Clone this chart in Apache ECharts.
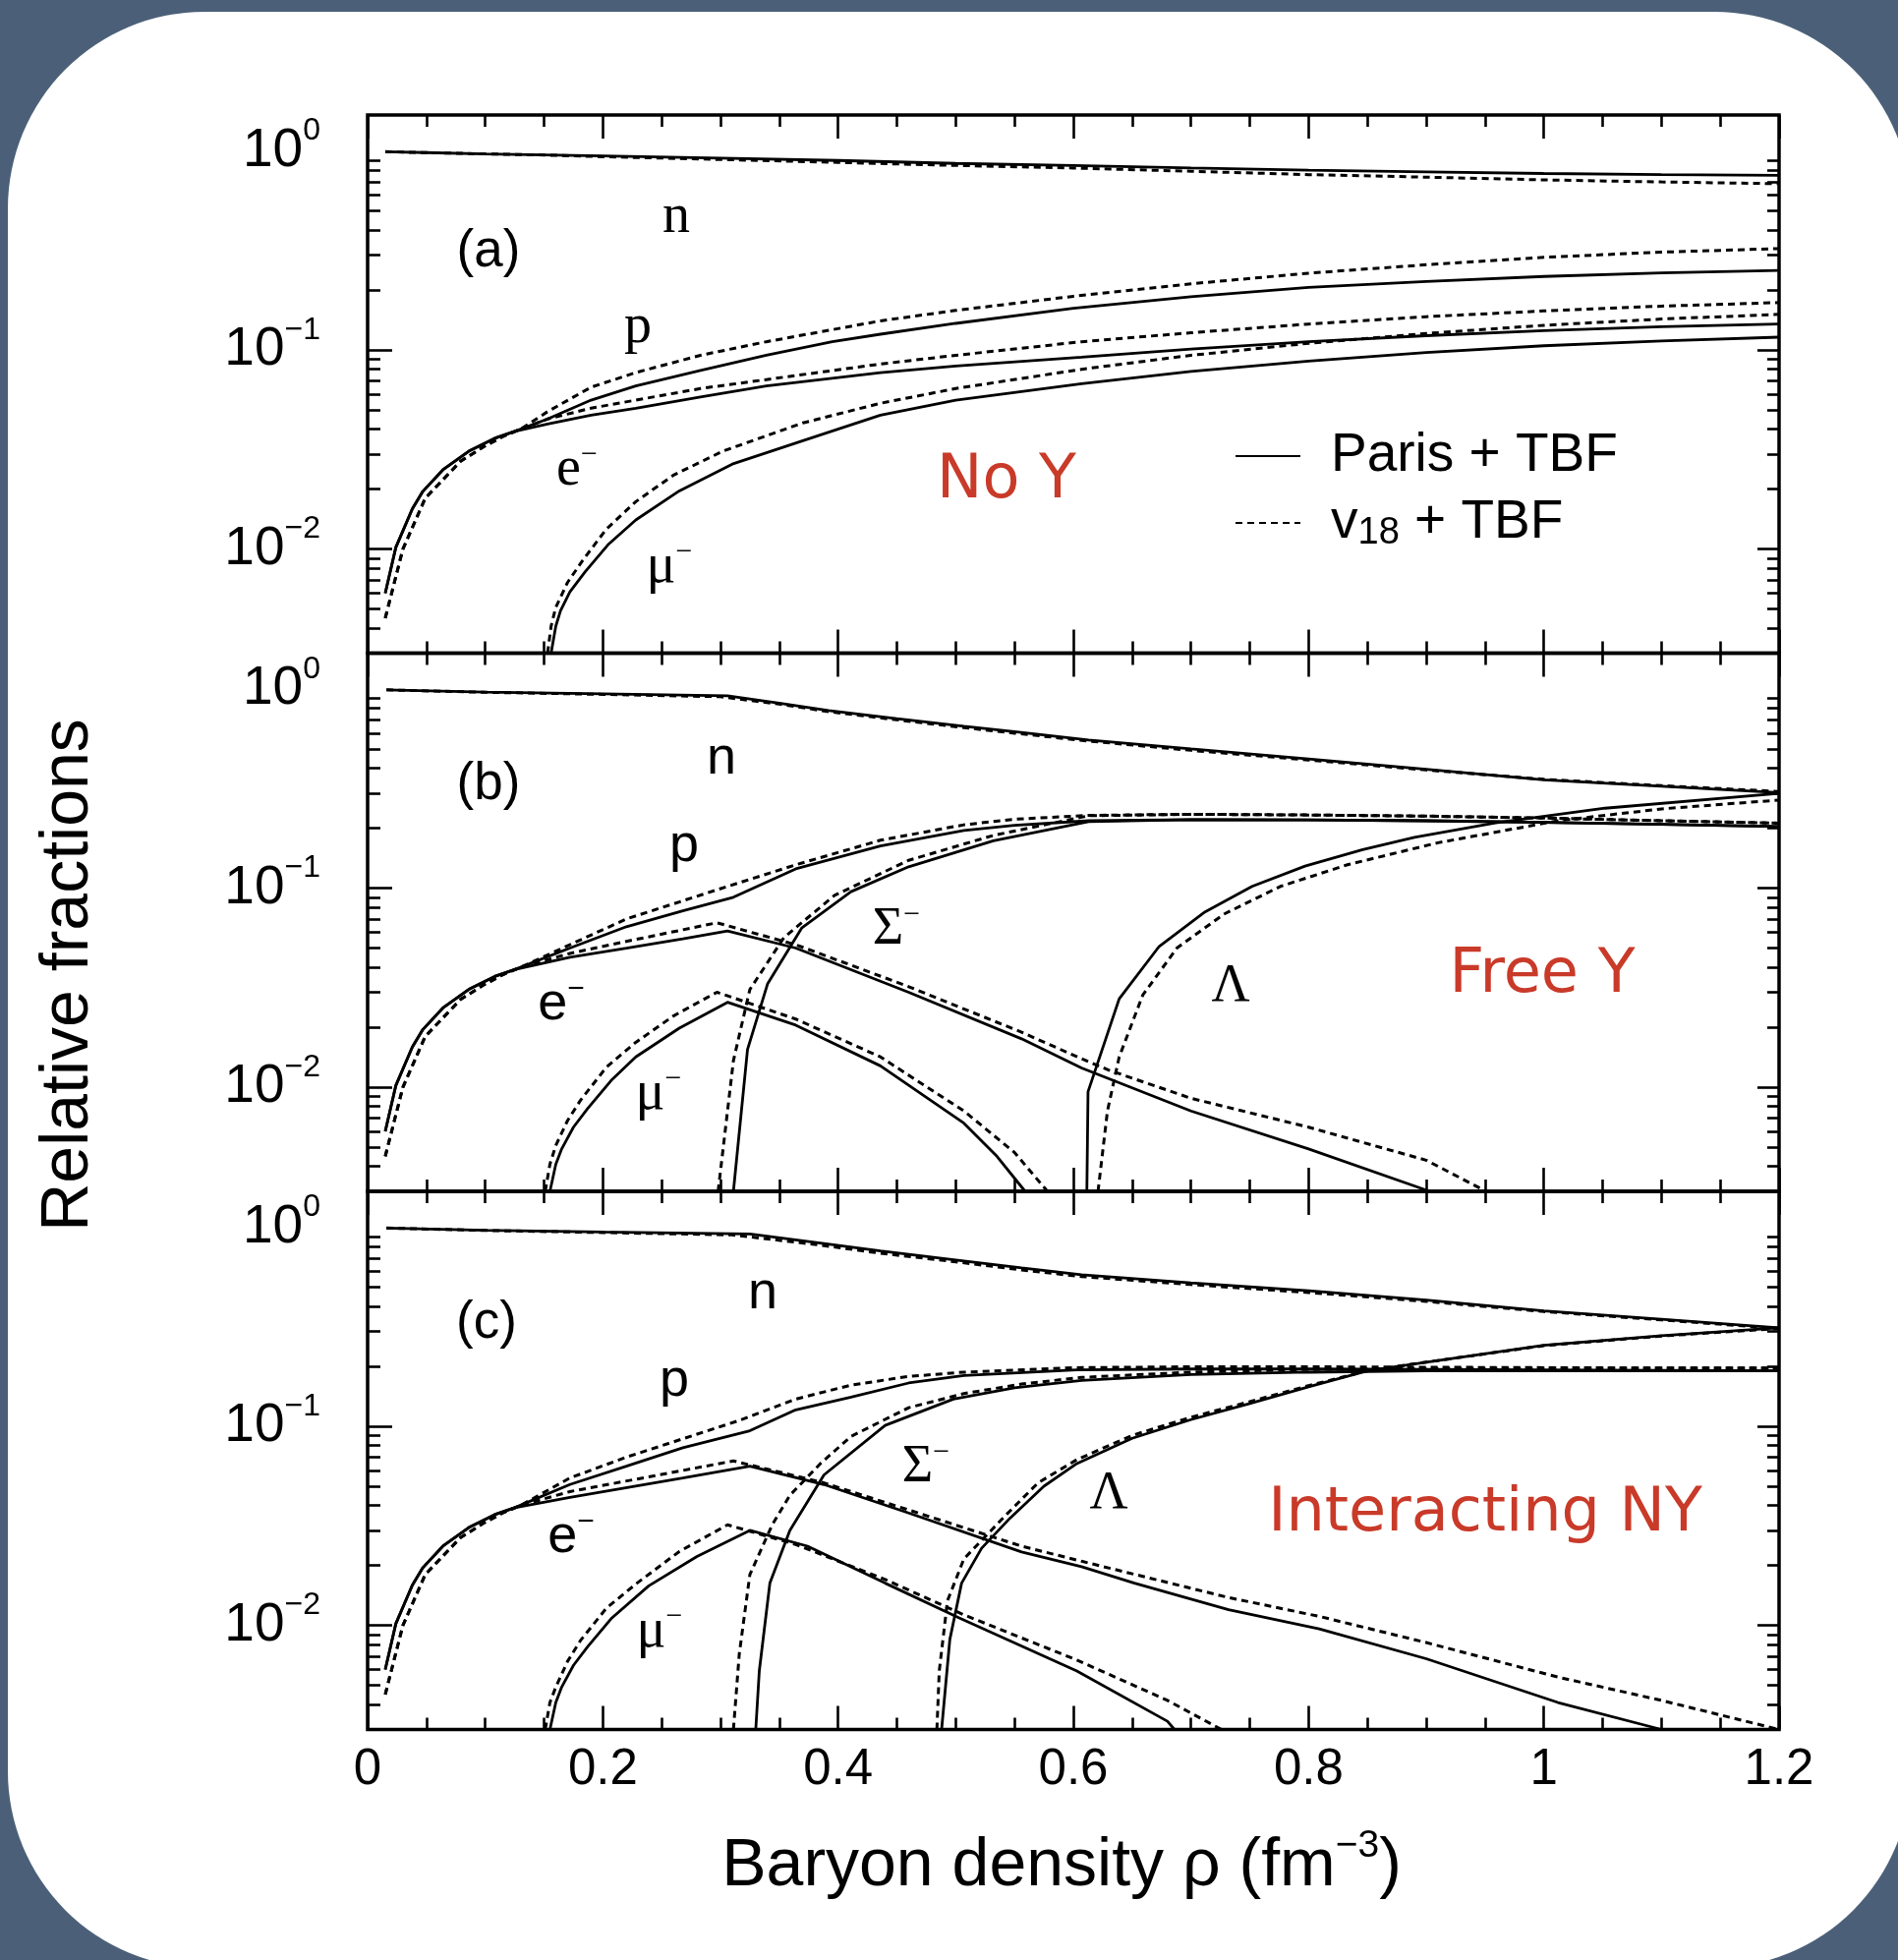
<!DOCTYPE html>
<html>
<head>
<meta charset="utf-8">
<script src="https://cdn.jsdelivr.net/npm/echarts@6/dist/echarts.min.js"></script>
<style>
html,body{margin:0;padding:0;background:#4b6078;}
#chart{width:1931px;height:1994px;}
</style>
</head>
<body>
<div id="chart"></div>
<script>
// ---------------- DATA ----------------
// each entry: [baryon density rho (fm^-3), relative fraction]
const PARIS = 'Paris + TBF';
const V18 = 'v18 + TBF';

// Panel (a): No Y
const a_n_paris = [[0.015,0.99],[0.05,0.98],[0.1,0.965],[0.15,0.955],[0.2,0.943],[0.3,0.92],[0.4,0.895],[0.5,0.865],[0.6,0.845],[0.7,0.82],[0.8,0.8],[0.9,0.785],[1.0,0.77],[1.1,0.76],[1.2,0.753]];
const a_n_v18 = [[0.015,0.99],[0.05,0.98],[0.1,0.965],[0.15,0.953],[0.2,0.935],[0.3,0.905],[0.4,0.875],[0.5,0.845],[0.6,0.82],[0.7,0.79],[0.8,0.76],[0.9,0.738],[1.0,0.715],[1.1,0.698],[1.2,0.684]];
const a_p_paris = [[0.015,0.006],[0.024,0.0102],[0.038,0.0159],[0.047,0.0195],[0.064,0.025],[0.086,0.031],[0.108,0.036],[0.125,0.039],[0.153,0.045],[0.19,0.056],[0.228,0.066],[0.283,0.079],[0.339,0.094],[0.395,0.11],[0.436,0.12],[0.5,0.136],[0.6,0.162],[0.7,0.185],[0.8,0.206],[0.9,0.221],[1.0,0.234],[1.1,0.244],[1.2,0.251]];
const a_p_v18 = [[0.015,0.0045],[0.03,0.010],[0.049,0.018],[0.079,0.0276],[0.1,0.033],[0.116,0.037],[0.13,0.040],[0.153,0.049],[0.19,0.065],[0.228,0.077],[0.283,0.094],[0.339,0.11],[0.436,0.14],[0.5,0.158],[0.6,0.186],[0.7,0.215],[0.8,0.243],[0.9,0.268],[1.0,0.292],[1.1,0.31],[1.2,0.323]];
const a_e_paris = [[0.015,0.006],[0.024,0.0102],[0.038,0.0159],[0.047,0.0195],[0.064,0.025],[0.086,0.031],[0.108,0.036],[0.125,0.039],[0.153,0.0425],[0.19,0.047],[0.228,0.051],[0.283,0.058],[0.339,0.066],[0.436,0.077],[0.5,0.083],[0.607,0.092],[0.7,0.101],[0.8,0.11],[0.9,0.118],[1.0,0.125],[1.1,0.131],[1.2,0.135]];
const a_e_v18 = [[0.015,0.0045],[0.03,0.010],[0.049,0.018],[0.079,0.0276],[0.1,0.033],[0.116,0.037],[0.13,0.040],[0.153,0.045],[0.19,0.051],[0.228,0.056],[0.283,0.064],[0.339,0.071],[0.436,0.085],[0.5,0.094],[0.607,0.11],[0.7,0.122],[0.8,0.135],[0.9,0.147],[1.0,0.157],[1.1,0.166],[1.2,0.173]];
const a_mu_paris = [[0.156,0.003],[0.16,0.0041],[0.164,0.0049],[0.172,0.0061],[0.185,0.0077],[0.205,0.0106],[0.228,0.014],[0.265,0.0196],[0.31,0.0267],[0.37,0.035],[0.436,0.047],[0.5,0.056],[0.607,0.0676],[0.7,0.078],[0.8,0.088],[0.9,0.097],[1.0,0.105],[1.1,0.111],[1.2,0.116]];
const a_mu_v18 = [[0.153,0.003],[0.156,0.0041],[0.16,0.0051],[0.17,0.0068],[0.183,0.0088],[0.203,0.0126],[0.228,0.0173],[0.26,0.0235],[0.302,0.031],[0.37,0.043],[0.436,0.054],[0.5,0.064],[0.607,0.08],[0.7,0.094],[0.8,0.108],[0.9,0.121],[1.0,0.133],[1.1,0.143],[1.2,0.151]];

// Panel (b): Free Y
const b_n_paris = [[0.016,0.99],[0.1,0.965],[0.2,0.945],[0.306,0.925],[0.35,0.85],[0.392,0.78],[0.45,0.71],[0.507,0.65],[0.55,0.61],[0.613,0.555],[0.7,0.5],[0.8,0.445],[0.9,0.395],[1.0,0.35],[1.1,0.325],[1.2,0.302]];
const b_n_v18 = [[0.016,0.99],[0.1,0.963],[0.2,0.94],[0.3,0.915],[0.35,0.84],[0.392,0.77],[0.45,0.70],[0.507,0.64],[0.55,0.60],[0.613,0.548],[0.7,0.492],[0.8,0.44],[0.9,0.392],[1.0,0.352],[1.1,0.327],[1.2,0.306]];
const b_p_paris = [[0.015,0.006],[0.024,0.0102],[0.038,0.0159],[0.047,0.0195],[0.064,0.025],[0.086,0.031],[0.108,0.036],[0.125,0.039],[0.172,0.05],[0.22,0.064],[0.268,0.077],[0.311,0.09],[0.364,0.125],[0.436,0.163],[0.507,0.195],[0.55,0.207],[0.613,0.218],[0.7,0.221],[0.8,0.22],[0.9,0.218],[1.0,0.214],[1.1,0.209],[1.2,0.204]];
const b_p_v18 = [[0.015,0.0045],[0.03,0.010],[0.049,0.018],[0.079,0.0276],[0.1,0.033],[0.116,0.037],[0.13,0.040],[0.172,0.052],[0.22,0.07],[0.306,0.102],[0.364,0.131],[0.436,0.174],[0.507,0.208],[0.55,0.222],[0.613,0.232],[0.7,0.235],[0.8,0.233],[0.9,0.23],[1.0,0.225],[1.1,0.218],[1.2,0.212]];
const b_e_paris = [[0.015,0.006],[0.024,0.0102],[0.038,0.0159],[0.047,0.0195],[0.064,0.025],[0.086,0.031],[0.108,0.036],[0.125,0.039],[0.172,0.045],[0.22,0.05],[0.268,0.0556],[0.306,0.061],[0.364,0.05],[0.46,0.03],[0.556,0.0175],[0.607,0.0125],[0.7,0.0076],[0.8,0.0049],[0.903,0.003]];
const b_e_v18 = [[0.015,0.0045],[0.03,0.010],[0.049,0.018],[0.079,0.0276],[0.1,0.033],[0.116,0.037],[0.13,0.040],[0.172,0.047],[0.22,0.054],[0.297,0.067],[0.364,0.052],[0.46,0.032],[0.556,0.0189],[0.607,0.0139],[0.63,0.0122],[0.7,0.0088],[0.8,0.0063],[0.9,0.0043],[0.951,0.003]];
const b_mu_paris = [[0.155,0.003],[0.16,0.0041],[0.165,0.0049],[0.175,0.0063],[0.187,0.0078],[0.207,0.0108],[0.228,0.0142],[0.265,0.0198],[0.306,0.0267],[0.364,0.0205],[0.436,0.0128],[0.507,0.0066],[0.535,0.0045],[0.559,0.003]];
const b_mu_v18 = [[0.151,0.003],[0.155,0.0041],[0.16,0.0051],[0.17,0.0068],[0.181,0.0086],[0.203,0.0126],[0.228,0.0168],[0.26,0.0228],[0.297,0.030],[0.364,0.022],[0.436,0.0142],[0.507,0.0076],[0.55,0.0047],[0.578,0.003]];
const b_sig_paris = [[0.311,0.003],[0.323,0.0155],[0.34,0.033],[0.369,0.063],[0.411,0.096],[0.46,0.128],[0.532,0.173],[0.613,0.216],[0.7,0.221],[0.8,0.22],[0.9,0.218],[1.0,0.214],[1.1,0.209],[1.2,0.204]];
const b_sig_v18 = [[0.298,0.003],[0.311,0.0136],[0.325,0.031],[0.354,0.0565],[0.397,0.092],[0.46,0.138],[0.532,0.184],[0.613,0.231],[0.7,0.235],[0.8,0.233],[0.9,0.23],[1.0,0.225],[1.1,0.218],[1.2,0.212]];
const b_lam_paris = [[0.6115,0.003],[0.6125,0.0095],[0.639,0.0278],[0.673,0.051],[0.712,0.076],[0.752,0.102],[0.797,0.129],[0.846,0.156],[0.89,0.18],[0.959,0.213],[1.052,0.252],[1.2,0.299]];
const b_lam_v18 = [[0.621,0.003],[0.629,0.0076],[0.639,0.0142],[0.659,0.029],[0.688,0.05],[0.728,0.074],[0.776,0.102],[0.833,0.131],[0.91,0.169],[1.012,0.218],[1.1,0.25],[1.2,0.277]];

// Panel (c): Interacting NY
const c_n_paris = [[0.016,0.99],[0.1,0.965],[0.2,0.945],[0.325,0.925],[0.38,0.84],[0.436,0.76],[0.5,0.685],[0.556,0.625],[0.607,0.577],[0.7,0.525],[0.8,0.48],[0.9,0.43],[1.0,0.38],[1.1,0.345],[1.2,0.312]];
const c_n_v18 = [[0.016,0.99],[0.1,0.963],[0.2,0.94],[0.31,0.915],[0.38,0.82],[0.436,0.74],[0.5,0.67],[0.556,0.61],[0.607,0.565],[0.7,0.515],[0.8,0.47],[0.9,0.424],[1.0,0.377],[1.1,0.342],[1.2,0.31]];
const c_p_paris = [[0.015,0.006],[0.024,0.0102],[0.038,0.0159],[0.047,0.0195],[0.064,0.025],[0.086,0.031],[0.108,0.036],[0.125,0.039],[0.172,0.051],[0.22,0.063],[0.268,0.078],[0.325,0.095],[0.364,0.121],[0.411,0.14],[0.46,0.165],[0.507,0.18],[0.603,0.192],[0.7,0.194],[0.8,0.194],[0.9,0.193],[1.0,0.192],[1.1,0.191],[1.2,0.19]];
const c_p_v18 = [[0.015,0.0045],[0.03,0.010],[0.049,0.018],[0.079,0.0276],[0.1,0.033],[0.116,0.037],[0.13,0.040],[0.172,0.055],[0.22,0.07],[0.314,0.106],[0.364,0.137],[0.411,0.161],[0.46,0.178],[0.507,0.187],[0.603,0.197],[0.7,0.199],[0.8,0.199],[0.9,0.198],[1.0,0.197],[1.1,0.196],[1.2,0.196]];
const c_e_paris = [[0.015,0.006],[0.024,0.0102],[0.038,0.0159],[0.047,0.0195],[0.064,0.025],[0.086,0.031],[0.108,0.036],[0.125,0.039],[0.172,0.044],[0.268,0.055],[0.325,0.063],[0.388,0.051],[0.46,0.0367],[0.556,0.0234],[0.607,0.0197],[0.652,0.0163],[0.732,0.012],[0.809,0.0096],[0.9,0.0068],[1.012,0.0041],[1.1,0.003]];
const c_e_v18 = [[0.015,0.0045],[0.03,0.010],[0.049,0.018],[0.079,0.0276],[0.1,0.033],[0.116,0.037],[0.13,0.040],[0.172,0.047],[0.268,0.060],[0.311,0.067],[0.388,0.052],[0.46,0.038],[0.556,0.025],[0.607,0.021],[0.732,0.0138],[0.809,0.0111],[0.9,0.0082],[1.012,0.0055],[1.1,0.0042],[1.2,0.003]];
const c_mu_paris = [[0.155,0.003],[0.16,0.0041],[0.165,0.0049],[0.175,0.0063],[0.187,0.0078],[0.207,0.0108],[0.239,0.0158],[0.28,0.0222],[0.325,0.030],[0.374,0.025],[0.44,0.0163],[0.503,0.0109],[0.603,0.0059],[0.68,0.0033],[0.686,0.003]];
const c_mu_v18 = [[0.151,0.003],[0.155,0.0041],[0.16,0.0049],[0.17,0.0066],[0.181,0.0084],[0.203,0.0122],[0.229,0.0163],[0.265,0.0235],[0.306,0.032],[0.364,0.0255],[0.44,0.017],[0.507,0.0113],[0.603,0.0067],[0.68,0.0042],[0.726,0.003]];
const c_sig_paris = [[0.33,0.003],[0.333,0.0059],[0.342,0.0163],[0.359,0.030],[0.388,0.057],[0.44,0.101],[0.498,0.137],[0.55,0.156],[0.607,0.17],[0.7,0.182],[0.8,0.187],[0.9,0.19],[1.0,0.19],[1.1,0.19],[1.2,0.19]];
const c_sig_v18 = [[0.311,0.003],[0.316,0.0072],[0.325,0.018],[0.344,0.032],[0.359,0.045],[0.385,0.065],[0.411,0.089],[0.46,0.124],[0.507,0.146],[0.556,0.163],[0.607,0.176],[0.7,0.187],[0.8,0.193],[0.9,0.195],[1.0,0.196],[1.1,0.196],[1.2,0.196]];
const c_lam_paris = [[0.488,0.003],[0.495,0.0085],[0.505,0.0163],[0.522,0.0244],[0.546,0.0345],[0.575,0.05],[0.603,0.065],[0.65,0.087],[0.7,0.108],[0.75,0.13],[0.8,0.158],[0.85,0.19],[0.9,0.21],[1.0,0.255],[1.1,0.285],[1.2,0.312]];
const c_lam_v18 = [[0.484,0.003],[0.486,0.0059],[0.493,0.0133],[0.507,0.0216],[0.541,0.035],[0.57,0.052],[0.603,0.068],[0.65,0.09],[0.7,0.111],[0.75,0.133],[0.8,0.16],[0.85,0.19],[0.9,0.21],[1.0,0.254],[1.1,0.284],[1.2,0.31]];

// axis ranges and ticks
const RHO_MIN = 0, RHO_MAX = 1.2, RHO_STEP = 0.2;
const FRACTION_MIN = 0.003, FRACTION_MAX = 1.514;
const yLabelExponents = [-2, -1, 0];
const yMajorTickFractions = [0.01, 0.1];
const yMinorTickFractions = [0.004,0.005,0.006,0.007,0.008,0.009,
  0.02,0.03,0.04,0.05,0.06,0.07,0.08,0.09,
  0.2,0.3,0.4,0.5,0.6,0.7,0.8,0.9];

const panelSeries = [
  [[a_n_paris,a_n_v18],[a_p_paris,a_p_v18],[a_e_paris,a_e_v18],[a_mu_paris,a_mu_v18]],
  [[b_n_paris,b_n_v18],[b_p_paris,b_p_v18],[b_e_paris,b_e_v18],[b_mu_paris,b_mu_v18],[b_sig_paris,b_sig_v18],[b_lam_paris,b_lam_v18]],
  [[c_n_paris,c_n_v18],[c_p_paris,c_p_v18],[c_e_paris,c_e_v18],[c_mu_paris,c_mu_v18],[c_sig_paris,c_sig_v18],[c_lam_paris,c_lam_v18]]
];

// ---------------- LAYOUT / STYLE ----------------
const SANS = '"Liberation Sans", Arial, Helvetica, sans-serif';
const SERIF = '"Liberation Serif", "Times New Roman", serif';
const HAND = '"DejaVu Sans", sans-serif';
const RED = '#c93a29';
const GRID_LEFT = 374, GRID_WIDTH = 1436, GRID_H = 547.5;
const GRID_TOPS = [117, 664.5, 1212];

const lg = Math.log10;
const YMIN = lg(FRACTION_MIN), YMAX = lg(FRACTION_MAX);
const tickLine = {color: '#000', width: 2.6};

const grids = GRID_TOPS.map(t => ({
  left: GRID_LEFT, top: t, width: GRID_WIDTH, height: GRID_H,
  show: true, borderColor: '#000', borderWidth: 3.5, backgroundColor: 'transparent'
}));

function xAxisFor(k, pos, showLabel) {
  return {
    type: 'value', gridIndex: k, position: pos, min: RHO_MIN, max: RHO_MAX, interval: RHO_STEP,
    axisLine: {show: false, onZero: false},
    axisTick: {show: true, inside: true, length: 24, lineStyle: tickLine},
    minorTick: {show: true, splitNumber: 4, length: 12, lineStyle: tickLine},
    splitLine: {show: false}, minorSplitLine: {show: false},
    axisLabel: {show: showLabel, margin: 16, fontSize: 51, fontFamily: SANS, color: '#000'}
  };
}
const xAxes = [];
for (let k = 0; k < 3; k++) xAxes.push(xAxisFor(k, 'bottom', k === 2));
for (let k = 0; k < 3; k++) xAxes.push(xAxisFor(k, 'top', false));

function yAxisFor(k, pos, tickVals, len, withLabel) {
  return {
    type: 'value', gridIndex: k, position: pos, min: YMIN, max: YMAX,
    axisLine: {show: false, onZero: false},
    axisTick: {show: true, inside: true, length: len, customValues: tickVals.map(lg), lineStyle: tickLine},
    splitLine: {show: false},
    axisLabel: withLabel ? {
      show: true, customValues: yLabelExponents, margin: 48,
      formatter: function (v) {
        const e = Math.round(v);
        return '{b|10}{s|' + (e === 0 ? '0' : '\u2212' + Math.abs(e)) + '}';
      },
      rich: {
        b: {fontSize: 55, fontFamily: SANS, color: '#000', lineHeight: 72},
        s: {fontSize: 32, fontFamily: SANS, color: '#000', lineHeight: 30, verticalAlign: 'top'}
      }
    } : {show: false}
  };
}
const yAxes = [];
for (let k = 0; k < 3; k++) {
  yAxes.push(yAxisFor(k, 'left', yMajorTickFractions, 25, true));
  yAxes.push(yAxisFor(k, 'left', yMinorTickFractions, 13, false));
  yAxes.push(yAxisFor(k, 'right', yMajorTickFractions, 22, false));
  yAxes.push(yAxisFor(k, 'right', yMinorTickFractions, 12, false));
}

const series = [];
panelSeries.forEach((pairs, k) => {
  pairs.forEach(pair => {
    [0, 1].forEach(j => {
      series.push({
        type: 'line', name: j === 0 ? PARIS : V18,
        xAxisIndex: k, yAxisIndex: 4 * k,
        data: pair[j].map(d => [d[0], lg(d[1])]),
        symbol: 'none', showSymbol: false, smooth: false, clip: true,
        silent: true, z: j === 0 ? 4 : 3,
        lineStyle: j === 0 ? {color: '#000', width: 2.8, type: 'solid'}
                           : {color: '#000', width: 3, type: [7, 5]}
      });
    });
  });
});

// text annotations (pixel placement)
const annotations = [
  {t: '(a)', x: 497, y: 256, font: SANS, size: 53},
  {t: 'n', x: 688, y: 221, font: SERIF, size: 56},
  {t: 'p', x: 649, y: 333, font: SERIF, size: 56},
  {t: 'e', sup: true, x: 587, y: 478, font: SERIF, size: 56},
  {t: '\u03bc', sup: true, x: 681, y: 577, font: SERIF, size: 56},
  {t: 'No Y', x: 1024, y: 490, font: HAND, size: 62, color: RED},
  {t: '(b)', x: 497, y: 798, font: SANS, size: 53},
  {t: 'n', x: 734, y: 772, font: SANS, size: 54},
  {t: 'p', x: 696, y: 861, font: SANS, size: 54},
  {t: 'e', sup: true, x: 571, y: 1022, font: SANS, size: 54},
  {t: '\u03bc', sup: true, x: 670, y: 1113, font: SERIF, size: 56},
  {t: '\u03a3', sup: true, x: 912, y: 946, font: SERIF, size: 54},
  {t: '\u039b', x: 1252, y: 1004, font: SERIF, size: 54},
  {t: 'Free Y', x: 1569, y: 993, font: HAND, size: 62, color: RED},
  {t: '(c)', x: 495, y: 1346, font: SANS, size: 53},
  {t: 'n', x: 776, y: 1316, font: SANS, size: 54},
  {t: 'p', x: 686, y: 1405, font: SANS, size: 54},
  {t: 'e', sup: true, x: 581, y: 1564, font: SANS, size: 54},
  {t: '\u03bc', sup: true, x: 671, y: 1660, font: SERIF, size: 56},
  {t: '\u03a3', sup: true, x: 942, y: 1493, font: SERIF, size: 54},
  {t: '\u039b', x: 1128, y: 1520, font: SERIF, size: 54},
  {t: 'Interacting NY', x: 1511, y: 1541, font: HAND, size: 62, color: RED}
];

function labelEl(a) {
  const fill = a.color || '#000';
  const style = {align: 'center', verticalAlign: 'middle', fill: fill, fontSize: a.size, fontFamily: a.font};
  if (a.sup) {
    style.text = '{m|' + a.t + '}{s|\u2212}';
    style.rich = {
      m: {fontSize: a.size, fontFamily: a.font, fill: fill, lineHeight: 60},
      s: {fontSize: 30, fontFamily: a.font, fill: fill, lineHeight: 10, verticalAlign: 'top'}
    };
  } else {
    style.text = a.t;
  }
  return {type: 'text', x: a.x, y: a.y, z: 20, silent: true, style: style};
}

const graphics = [
  {type: 'rect', z: -10, silent: true, shape: {x: 8, y: 12, width: 1936, height: 1990, r: 200}, style: {fill: '#ffffff'}},
  {type: 'text', z: 20, silent: true, x: 1080, y: 1899, style: {
    text: '{t|Baryon density \u03c1 (fm}{s|\u22123}{t|)}', align: 'center', verticalAlign: 'middle',
    rich: {
      t: {fontSize: 68, fontFamily: SANS, fill: '#000', lineHeight: 80},
      s: {fontSize: 39, fontFamily: SANS, fill: '#000', lineHeight: 22, verticalAlign: 'top'}
    }}},
  {type: 'text', z: 20, silent: true, x: 70, y: 992, rotation: Math.PI / 2, style: {
    text: 'Relative fractions', align: 'center', verticalAlign: 'middle',
    fontSize: 68, fontFamily: SANS, fill: '#000'}}
].concat(annotations.map(labelEl));

const option = {
  backgroundColor: '#4b6078',
  animation: false,
  grid: grids,
  xAxis: xAxes,
  yAxis: yAxes,
  legend: {
    data: [PARIS, V18], orient: 'vertical', left: 1256, top: 434, padding: 0,
    itemGap: 8, itemWidth: 66, itemHeight: 20, selectedMode: false,
    itemStyle: {opacity: 0},
    formatter: function (name) {
      return name === V18 ? '{t|v}{sub|18}{t| + TBF}' : '{t|' + name + '}';
    },
    textStyle: {
      color: '#000', fontSize: 54, fontFamily: SANS, lineHeight: 60, padding: [0, 0, 0, 26],
      rich: {
        t: {fontSize: 55, fontFamily: SANS, color: '#000', lineHeight: 60},
        sub: {fontSize: 38, fontFamily: SANS, color: '#000', lineHeight: 6, verticalAlign: 'bottom'}
      }
    }
  },
  graphic: {elements: graphics},
  series: series
};

const chart = echarts.init(document.getElementById('chart'), null, {renderer: 'canvas'});
chart.setOption(option);
</script>
</body>
</html>
